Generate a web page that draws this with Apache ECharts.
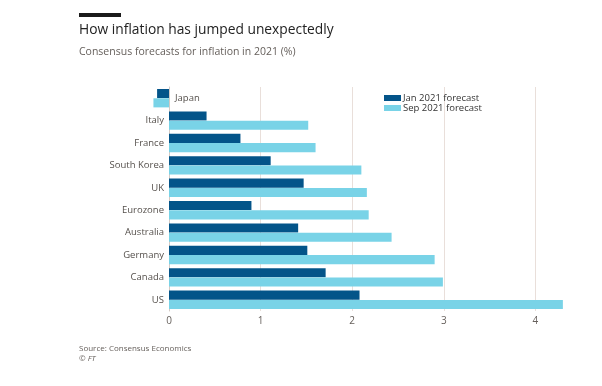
<!DOCTYPE html>
<html><head><meta charset="utf-8">
<script src="https://cdn.jsdelivr.net/npm/echarts@6/dist/echarts.min.js"></script>
<style>html,body{margin:0;padding:0;background:#fff}#c{width:602px;height:386px}</style>
</head><body><div id="c"></div>
<script>
const categories = ["Japan","Italy","France","South Korea","UK","Eurozone","Australia","Germany","Canada","US"];
const jan2021 = [-0.13,0.41,0.78,1.11,1.47,0.90,1.41,1.51,1.71,2.08];
const sep2021 = [-0.17,1.52,1.60,2.10,2.16,2.18,2.43,2.90,2.99,4.30];
const xTicks = [0,1,2,3,4];

const FONT = '"Open Sans", sans-serif';
const chart = echarts.init(document.getElementById('c'), null, {renderer:'canvas'});
chart.setOption({
  animation:false,
  backgroundColor:'#fff',
  textStyle:{fontFamily:FONT},
  graphic:[
    {type:'rect', shape:{x:79,y:13,width:42,height:4}, style:{fill:'#1a1a1a'}},
    {type:'text', left:79, top:23, style:{text:'How inflation has jumped unexpectedly', fontFamily:FONT, fontSize:13.8, fill:'#222'}},
    {type:'text', left:79, top:47, style:{text:'Consensus forecasts for inflation in 2021 (%)', fontFamily:FONT, fontSize:10.5, fill:'#66605c'}},
    {type:'text', left:79, top:345, style:{text:'Source: Consensus Economics', fontFamily:FONT, fontSize:8, fill:'#66605c'}},
    {type:'text', left:79, top:355, style:{text:'© FT', fontFamily:FONT, fontSize:8, fontStyle:'italic', fill:'#66605c'}}
  ],
  legend:{
    orient:'vertical', left:384, top:93, padding:0, itemWidth:17, itemHeight:6, itemGap:0,
    icon:'rect',
    textStyle:{fontSize:9.5, lineHeight:10, color:'#333', fontFamily:FONT, padding:[0,0,0,-3]},
    data:['Jan 2021 forecast','Sep 2021 forecast']
  },
  grid:{left:169, width:458, top:87, bottom:75, containLabel:false, outerBoundsMode:'none'},
  xAxis:{
    type:'value', min:0, max:5, interval:1,
    axisLine:{show:false}, axisTick:{show:false},
    splitLine:{show:true, lineStyle:{color:'#e9dfda', width:1}},
    axisLabel:{color:'#66605c', fontSize:10, margin:5, fontFamily:FONT,
      formatter:v=> xTicks.includes(v) ? String(v) : ''}
  },
  yAxis:[{
    type:'category', data:categories, inverse:true,
    axisLine:{show:true, lineStyle:{color:'#d3cac4', width:1}}, axisTick:{show:false},
    axisLabel:{color:'#55504c', fontSize:9.5, margin:5, fontFamily:FONT,
      formatter:v=> v==='Japan' ? '' : v}
  },{
    type:'category', data:categories, inverse:true, position:'left',
    axisLine:{show:false}, axisTick:{show:false}, splitLine:{show:false},
    axisLabel:{inside:true, color:'#55504c', fontSize:9.5, margin:6, fontFamily:FONT,
      formatter:v=> v==='Japan' ? v : ''}
  }],
  series:[
    {name:'Jan 2021 forecast', type:'bar', data:jan2021, clip:false, itemStyle:{color:'#035489'}, barGap:'2%', barCategoryGap:'18%'},
    {name:'Sep 2021 forecast', type:'bar', data:sep2021, clip:false, itemStyle:{color:'#79d3e7'}, barGap:'2%', barCategoryGap:'18%'}
  ]
});
</script></body></html>
